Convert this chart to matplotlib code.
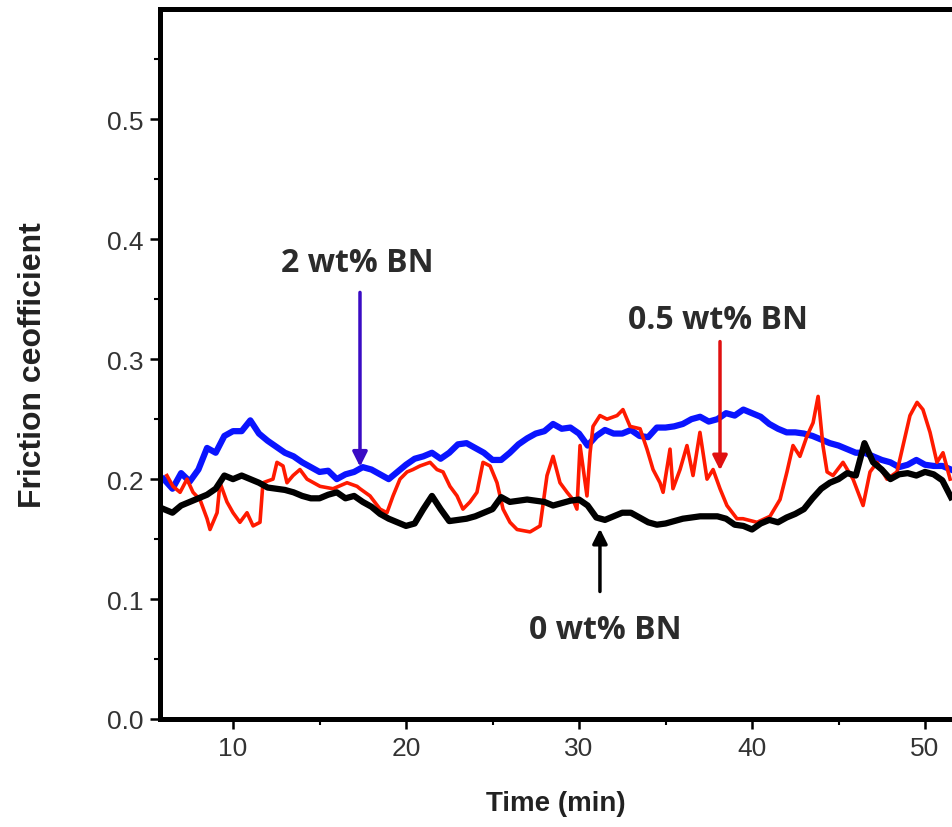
import numpy as np
import matplotlib.pyplot as plt
from matplotlib.ticker import MultipleLocator

# time in min, friction coefficient
t_blue = np.arange(6.0, 51.75, 0.5)
mu_blue = [0.200, 0.192, 0.205, 0.198, 0.208, 0.226, 0.222, 0.236, 0.240, 0.240,
           0.249, 0.238, 0.232, 0.227, 0.222, 0.219, 0.214, 0.210, 0.206, 0.207,
           0.200, 0.204, 0.206, 0.210, 0.208, 0.204, 0.200, 0.206, 0.212, 0.217,
           0.219, 0.222, 0.217, 0.222, 0.229, 0.230, 0.226, 0.222, 0.216, 0.216,
           0.222, 0.229, 0.234, 0.238, 0.240, 0.246, 0.242, 0.243, 0.238, 0.228,
           0.236, 0.241, 0.238, 0.238, 0.241, 0.236, 0.235, 0.243, 0.243, 0.244,
           0.246, 0.250, 0.252, 0.248, 0.250, 0.255, 0.253, 0.258, 0.255, 0.252,
           0.246, 0.242, 0.239, 0.239, 0.238, 0.236, 0.233, 0.230, 0.228, 0.225,
           0.222, 0.222, 0.219, 0.216, 0.214, 0.210, 0.212, 0.216, 0.212, 0.211,
           0.211, 0.208]

t_black = np.arange(6.0, 51.75, 0.5)
mu_black = [0.175, 0.172, 0.178, 0.181, 0.184, 0.187, 0.192, 0.203, 0.200, 0.203,
            0.200, 0.197, 0.193, 0.192, 0.191, 0.189, 0.186, 0.184, 0.184, 0.187,
            0.189, 0.184, 0.186, 0.181, 0.177, 0.171, 0.167, 0.164, 0.161, 0.163,
            0.175, 0.186, 0.175, 0.165, 0.166, 0.167, 0.169, 0.172, 0.175, 0.185,
            0.181, 0.182, 0.183, 0.182, 0.181, 0.178, 0.180, 0.182, 0.183, 0.178,
            0.168, 0.166, 0.169, 0.172, 0.172, 0.168, 0.164, 0.162, 0.163, 0.165,
            0.167, 0.168, 0.169, 0.169, 0.169, 0.167, 0.162, 0.161, 0.158, 0.163,
            0.166, 0.164, 0.168, 0.171, 0.175, 0.184, 0.192, 0.197, 0.200, 0.205,
            0.203, 0.230, 0.214, 0.208, 0.200, 0.204, 0.205, 0.203, 0.206, 0.204,
            0.199, 0.185]

t_red = [6.18, 6.53, 6.94, 7.34, 7.69, 8.09, 8.50, 8.67, 9.08, 9.25,
         9.65, 10.00, 10.40, 10.81, 11.16, 11.56, 11.73, 12.31, 12.54, 12.89,
         13.12, 13.47, 13.87, 14.28, 15.03, 15.78, 16.59, 17.17, 17.34, 17.92,
         18.50, 18.90, 19.25, 19.65, 20.06, 20.40, 20.81, 21.39, 21.79, 22.14,
         22.54, 22.95, 23.29, 23.70, 24.10, 24.45, 24.86, 25.26, 25.61, 26.01,
         26.42, 27.17, 27.75, 28.15, 28.50, 28.90, 29.31, 29.65, 29.88, 30.06,
         30.46, 30.64, 30.81, 31.21, 31.62, 32.20, 32.54, 32.95, 33.53, 33.93,
         34.28, 34.68, 34.86, 35.26, 35.43, 35.84, 36.24, 36.59, 36.99, 37.40,
         37.75, 38.15, 38.55, 39.13, 39.48, 40.29, 41.04, 41.62, 42.02, 42.37,
         42.77, 43.18, 43.53, 43.82, 44.10, 44.34, 44.68, 45.26, 45.84, 46.42,
         46.82, 47.23, 47.80, 48.38, 48.73, 49.13, 49.54, 49.88, 50.29, 50.69,
         51.04, 51.45]
mu_red = [0.203, 0.194, 0.189, 0.200, 0.189, 0.183, 0.167, 0.158, 0.172, 0.197,
          0.181, 0.172, 0.164, 0.172, 0.161, 0.164, 0.197, 0.200, 0.214, 0.211,
          0.197, 0.203, 0.208, 0.200, 0.194, 0.192, 0.197, 0.194, 0.192, 0.186,
          0.175, 0.172, 0.186, 0.200, 0.206, 0.208, 0.211, 0.214, 0.208, 0.206,
          0.194, 0.186, 0.175, 0.181, 0.189, 0.214, 0.211, 0.197, 0.175, 0.164,
          0.158, 0.156, 0.161, 0.203, 0.219, 0.197, 0.189, 0.183, 0.175, 0.228,
          0.186, 0.222, 0.244, 0.253, 0.250, 0.253, 0.258, 0.244, 0.242, 0.225,
          0.208, 0.197, 0.189, 0.225, 0.192, 0.208, 0.228, 0.203, 0.239, 0.200,
          0.208, 0.192, 0.178, 0.167, 0.167, 0.164, 0.169, 0.183, 0.206, 0.228,
          0.219, 0.236, 0.247, 0.269, 0.228, 0.206, 0.203, 0.214, 0.200, 0.178,
          0.206, 0.214, 0.200, 0.206, 0.228, 0.253, 0.264, 0.258, 0.239, 0.214,
          0.222, 0.200]

plt.rcParams['font.family'] = ['Liberation Sans', 'DejaVu Sans']

fig = plt.figure(figsize=(9.52, 8.28), dpi=100)
ax = fig.add_axes([160 / 952, 108 / 828, 1 - 160 / 952, 710 / 828])

ax.plot(t_blue, mu_blue, color='#0a14ff', lw=4.5, zorder=2)
ax.plot(t_red, mu_red, color='#ff1a00', lw=2.6, zorder=3)
ax.plot(t_black, mu_black, color='black', lw=4.5, zorder=4)

ax.set_xlim(5.78, 51.56)
ax.set_ylim(0, 0.592)
ax.xaxis.set_major_locator(MultipleLocator(10))
ax.xaxis.set_minor_locator(MultipleLocator(5))
ax.yaxis.set_major_locator(MultipleLocator(0.1))
ax.yaxis.set_minor_locator(MultipleLocator(0.05))
ax.yaxis.set_major_formatter(plt.FormatStrFormatter('%.1f'))

for side in ['top', 'left', 'bottom']:
    ax.spines[side].set_linewidth(3.6)
ax.spines['right'].set_visible(False)
ax.tick_params(which='major', direction='out', length=7, width=1.8,
               labelsize=19, labelcolor='#333333', pad=5)
ax.tick_params(which='minor', direction='out', length=4, width=1.5)

ax.set_xlabel('Time (min)', fontsize=20, fontweight='bold', color='#222222', labelpad=22)
ax.set_ylabel('Friction ceofficient', fontsize=23, fontweight='bold', color='#222222', labelpad=42)

lab = dict(fontsize=23, fontweight='bold', color='#2b2b2b', family='Open Sans',
           ha='center', va='center')
ax.text(17.17, 0.381, '2 wt% BN', **lab)
ax.text(38.03, 0.333, '0.5 wt% BN', **lab)
ax.text(31.5, 0.075, '0 wt% BN', **lab)

ax.annotate('', xy=(17.34, 0.208), xytext=(17.34, 0.358),
            arrowprops=dict(arrowstyle='-|>', color='#3a0bc4', lw=2.5, mutation_scale=22))
ax.annotate('', xy=(38.15, 0.205), xytext=(38.15, 0.317),
            arrowprops=dict(arrowstyle='-|>', color='#e01010', lw=2.5, mutation_scale=22))
ax.annotate('', xy=(31.21, 0.161), xytext=(31.21, 0.104),
            arrowprops=dict(arrowstyle='-|>', color='black', lw=2.5, mutation_scale=22))

fig.savefig('out.png', dpi=100)
